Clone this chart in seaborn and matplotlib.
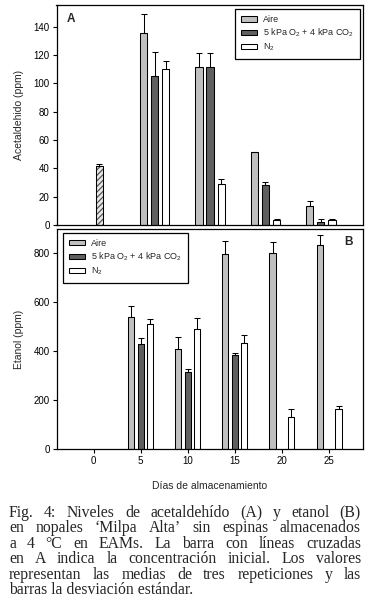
import numpy as np
import pandas as pd
import seaborn as sns
import matplotlib.pyplot as plt

# --- datos ---
tratamientos = ['Aire', '5 kPa O$_2$ + 4 kPa CO$_2$', 'N$_2$']
colores = ['#c0c0c0', '#5f5f5f', '#ffffff']

# (A) acetaldehido
dias_a = [5, 10, 15, 20]
aire_a = [135.3, 111.3, 51.2, 13.6]
aire_a_sd = [13.4, 9.8, 0.0, 3.0]
mod_a = [105.2, 111.3, 28.2, 2.1]
mod_a_sd = [17.0, 10.3, 2.5, 2.0]
n2_a = [110.0, 29.0, 3.7, 3.5]
n2_a_sd = [5.5, 3.2, 0.6, 0.5]
inicial = 41.5
inicial_sd = 1.3

# (B) etanol
dias_b = [5, 10, 15, 20, 25]
aire_b = [540, 408, 797, 800, 833]
aire_b_sd = [45, 49, 53, 45, 41]
mod_b = [429, 315, 384, np.nan, np.nan]
mod_b_sd = [27, 12, 8, np.nan, np.nan]
n2_b = [511, 491, 433, 130, 164]
n2_b_sd = [19, 44, 33, 33, 12]

caption = [
    'Fig. 4: Niveles de acetaldehído (A) y etanol (B)',
    'en nopales ‘Milpa Alta’ sin espinas almacenados',
    'a 4 °C en EAMs.  La barra con líneas cruzadas',
    'en A indica la concentración inicial.  Los valores',
    'representan las medias de tres repeticiones y las',
    'barras la desviación estándar.',
]


def tabla(dias, series, sds):
    filas = []
    for trat, vals, sd in zip(tratamientos, series, sds):
        for d, v, s in zip(dias, vals, sd):
            filas.append({'dia': d, 'valor': v, 'sd': s, 'trat': trat})
    return pd.DataFrame(filas).dropna()


df_a = tabla(dias_a, [aire_a, mod_a, n2_a], [aire_a_sd, mod_a_sd, n2_a_sd])
df_b = tabla(dias_b, [aire_b, mod_b, n2_b], [aire_b_sd, mod_b_sd, n2_b_sd])

sns.set_theme(style='ticks')
plt.rcParams['font.family'] = ['Liberation Sans', 'DejaVu Sans']
plt.rcParams['mathtext.default'] = 'regular'
plt.rcParams['axes.linewidth'] = 0.9

W, H = 370, 611
fig = plt.figure(figsize=(W / 100, H / 100), dpi=100)
ax1 = fig.add_axes([56.5 / W, 1 - 225 / H, 306.5 / W, 220.3 / H])
ax2 = fig.add_axes([56.5 / W, 1 - 449 / H, 306.5 / W, 220 / H])


def barras(ax, df):
    sns.barplot(data=df, x='dia', y='valor', hue='trat', hue_order=tratamientos,
                palette=colores, native_scale=True, width=0.6, gap=0.35,
                saturation=1, errorbar=None, edgecolor='black', linewidth=0.75, ax=ax)
    for cont, trat in zip(ax.containers, tratamientos):
        sub = df[df['trat'] == trat].sort_values('dia')
        xs = [p.get_x() + p.get_width() / 2 for p in cont.patches]
        ax.errorbar(xs, sub['valor'], yerr=[np.zeros(len(sub)), sub['sd']], fmt='none',
                    ecolor='black', elinewidth=0.75, capsize=2.5, capthick=0.75)


barras(ax1, df_a)
barras(ax2, df_b)

# barra de concentracion inicial (rayada)
plt.rcParams['hatch.linewidth'] = 0.9
ax1.bar(0, inicial, width=0.62, color='#e8e8e8', edgecolor='#555555', hatch='//////', linewidth=0)
ax1.bar(0, inicial, width=0.62, color='none', edgecolor='black', linewidth=0.75)
ax1.errorbar(0, inicial, yerr=[[0], [inicial_sd]], fmt='none', ecolor='black',
             elinewidth=0.75, capsize=2.5, capthick=0.75)

ax1.set_xlim(-3.85, 23.8)
ax1.set_ylim(0, 155.5)
ax1.set_yticks(range(0, 141, 20))
ax1.set_xticks([])
ax1.set_xlabel('')
ax1.set_ylabel('Acetaldehido (ppm)', fontsize=7.5)
ax1.yaxis.set_label_coords(-0.105, 0.5)

ax2.set_xlim(-3.93, 28.6)
ax2.set_ylim(0, 900)
ax2.set_xticks(range(0, 26, 5))
ax2.set_yticks(range(0, 801, 200))
ax2.set_ylabel('Etanol (ppm)', fontsize=7.5)
ax2.set_xlabel('Días de almacenamiento', fontsize=7.5)
ax2.yaxis.set_label_coords(-0.105, 0.5)
ax2.xaxis.set_label_coords(0.5, -0.145)

for ax in (ax1, ax2):
    ax.tick_params(labelsize=7, length=3, width=0.8, pad=2, color='black', labelcolor='black')
    for s in ax.spines.values():
        s.set_color('black')

leg_kw = dict(title=None, frameon=True, fancybox=False, edgecolor='black', framealpha=1,
              fontsize=6.5, handlelength=1.8, handleheight=0.55, handletextpad=0.7,
              labelspacing=0.3, borderpad=0.65, borderaxespad=0)
sns.move_legend(ax1, 'upper right', bbox_to_anchor=(0.990, 0.980), **leg_kw)
sns.move_legend(ax2, 'upper left', bbox_to_anchor=(0.021, 0.982), **leg_kw)
for leg in (ax1.get_legend(), ax2.get_legend()):
    leg.get_frame().set_linewidth(0.9)
    for h in leg.legend_handles:
        h.set_edgecolor('black')
        h.set_linewidth(0.75)

ax1.text(0.047, 0.935, 'A', transform=ax1.transAxes, fontsize=8.5, fontweight='bold',
         ha='center', va='center')
ax2.text(0.954, 0.943, 'B', transform=ax2.transAxes, fontsize=8.5, fontweight='bold',
         ha='center', va='center')

# pie de figura, justificado (la ultima linea va normal)
x0, x1 = 9, 361
cap_kw = dict(fontsize=11.3, va='baseline', ha='left', family=['Liberation Serif', 'DejaVu Serif'])
renderer = fig.canvas.get_renderer()
for i, linea in enumerate(caption):
    y = 1 - (517 + i * 15.4) / H
    if i == len(caption) - 1:
        fig.text(x0 / W, y, linea, **cap_kw)
        continue
    palabras = linea.split()
    textos = [fig.text(x0 / W, y, p, **cap_kw) for p in palabras]
    anchos = [t.get_window_extent(renderer).width for t in textos]
    espacio = (x1 - x0 - sum(anchos)) / (len(anchos) - 1)
    x = x0
    for t, w in zip(textos, anchos):
        t.set_x(x / W)
        x += w + espacio

fig.savefig('out.png', dpi=100)
